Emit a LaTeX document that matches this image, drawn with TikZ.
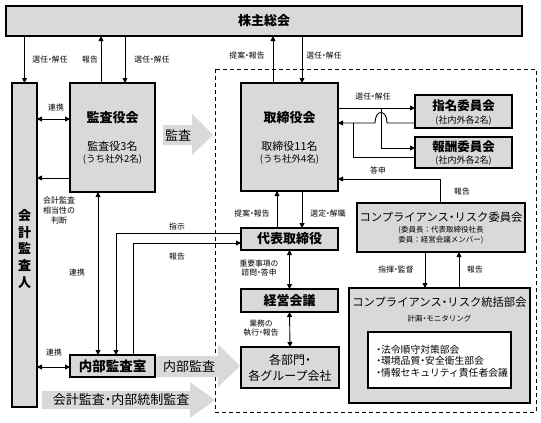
\documentclass[tikz,border=0pt]{standalone}
\usepackage{fontspec}
\setmainfont{Noto Sans CJK JP}
\usetikzlibrary{arrows.meta}
\definecolor{boxgray}{HTML}{D9D9D9}
\definecolor{arrgray}{HTML}{D9D9D9}
\newcommand\lblfont{\fontsize{7.8}{9.5}\selectfont}
\newcommand\ttlfont{\bfseries\fontsize{13}{15}\selectfont}
\newcommand\subfont{\fontsize{11}{13}\selectfont}
\newcommand\smfont{\fontsize{9.5}{11}\selectfont}
\newcommand\nd{\makebox[0.5em][c]{・}}
\begin{document}
\begin{tikzpicture}[x=1pt,y=-1pt,
  box/.style={draw, line width=1.1pt, fill=boxgray, inner sep=0pt, outer sep=0pt},
  lbl/.style={font=\lblfont, inner sep=0pt, align=center},
  arr/.style={-{Triangle[length=5pt,width=5pt]}, line width=0.9pt},
  darr/.style={{Triangle[length=5pt,width=5pt]}-{Triangle[length=5pt,width=5pt]}, line width=0.9pt},
  plain/.style={line width=0.9pt},
  bigarrow/.style={fill=arrgray, draw=none}]
\useasboundingbox (0,0) rectangle (541,423);

% dashed frame
\draw[dashed, line width=0.9pt, dash pattern=on 4pt off 3pt] (215,69) rectangle (536,412);

% big gray arrows
\fill[bigarrow] (163,125) -- (192,125) -- (192,114) -- (213,135) -- (192,155) -- (192,145) -- (163,145) -- cycle;
\node[font=\ttlfont\mdseries, inner sep=0pt] (kansaarrow) at (178,135) {監査};
\fill[bigarrow] (156,356) -- (218,356) -- (218,344) -- (240,366) -- (218,387) -- (218,377) -- (156,377) -- cycle;
\node[font=\ttlfont\mdseries, inner sep=0pt] (naibuarrow) at (189,366.5) {内部監査};
\fill[bigarrow] (42,391) -- (190,391) -- (190,382) -- (215,400) -- (190,418) -- (190,409) -- (42,409) -- cycle;
\node[font=\ttlfont\mdseries, inner sep=0pt] (kaikeiarrow) at (121,400) {会計監査\nd 内部統制監査};

% boxes
\node[box, minimum width=516pt, minimum height=30pt, font=\ttlfont] (soukai) at (264,21) {株主総会};
\node[box, minimum width=25pt, minimum height=324pt] (kaikei) at (24.5,245) {};
\node[font=\bfseries\fontsize{13}{16.8}\selectfont, align=center, inner sep=0pt] (kaikeitxt) at (24.5,249) {会\\計\\監\\査\\人};

\node[box, minimum width=85pt, minimum height=109pt] (kansayaku) at (112.5,137.5) {};
\node[font=\ttlfont, inner sep=0pt] (kansayakut) at (112.5,118) {監査役会};
\node[font=\subfont, inner sep=0pt] (kansayakus1) at (112.5,146) {監査役3名};
\node[font=\smfont, inner sep=0pt] (kansayakus2) at (112.5,159) {(うち社外2名)};

\node[box, minimum width=97pt, minimum height=108pt] (tori) at (289.5,137) {};
\node[font=\ttlfont, inner sep=0pt] (torit) at (289.5,118) {取締役会};
\node[font=\subfont, inner sep=0pt] (toris1) at (289.5,146) {取締役11名};
\node[font=\smfont, inner sep=0pt] (toris2) at (289.5,159) {(うち社外4名)};

\node[box, minimum width=97pt, minimum height=22pt, font=\ttlfont] (daihyo) at (289.5,239) {代表取締役};
\node[box, minimum width=97pt, minimum height=23pt, font=\ttlfont] (keiei) at (289.5,300.5) {経営会議};
\node[box, minimum width=98pt, minimum height=41pt, font=\fontsize{12}{16}\selectfont, align=center] (kakubu) at (290,367.5) {各部門\nd\\各グループ会社};
\node[box, minimum width=85pt, minimum height=22pt, font=\bfseries\fontsize{13.5}{15}\selectfont] (naibu) at (112.5,366) {内部監査室};

\node[box, minimum width=97pt, minimum height=33pt] (shimei) at (463.5,111.5) {};
\node[font=\bfseries\fontsize{12.5}{14}\selectfont, inner sep=0pt] (shimeit) at (463.5,106) {指名委員会};
\node[font=\fontsize{9}{10}\selectfont, inner sep=0pt] (shimeis) at (463.5,120.5) {(社内外各2名)};
\node[box, minimum width=97pt, minimum height=31pt] (hoshu) at (463.5,152.5) {};
\node[font=\bfseries\fontsize{12.5}{14}\selectfont, inner sep=0pt] (hoshut) at (463.5,147) {報酬委員会};
\node[font=\fontsize{9}{10}\selectfont, inner sep=0pt] (hoshus) at (463.5,161) {(社内外各2名)};

\node[box, minimum width=168pt, minimum height=49pt] (cri) at (441,227.5) {};
\node[font=\fontsize{11.3}{13}\selectfont, inner sep=0pt] (crit) at (441,217) {コンプライアンス\nd リスク委員会};
\node[font=\fontsize{7.5}{10}\selectfont, align=center, inner sep=0pt] (cris) at (441,235) {(委員長：代表取締役社長\\委員：経営会議メンバー)};

\node[box, minimum width=181pt, minimum height=115pt] (crt) at (439.5,345.5) {};
\node[font=\fontsize{11.3}{13}\selectfont, inner sep=0pt] (crtt) at (439.5,302) {コンプライアンス\nd リスク統括部会};
\node[font=\fontsize{7.5}{9}\selectfont, inner sep=0pt] (crts) at (439.5,319) {計画\nd モニタリング};
\node[draw, line width=1.1pt, fill=white, minimum width=143pt, minimum height=56pt, inner sep=0pt] (inner) at (439.5,360) {};
\node[font=\fontsize{9.8}{11.3}\selectfont, align=left, inner sep=0pt, anchor=west] (innert) at (376,361) {\nd 法令順守対策部会\\\nd 環境品質\nd 安全衛生部会\\\nd 情報セキュリティ責任者会議};

% connectors top
\draw[arr] (kaikei.north |- soukai.south) -- (kaikei.north);
\node[lbl] (l1) at (50,60) {選任\nd 解任};
\draw[arr] ([xshift=-11.5pt]kansayaku.north) -- ([xshift=-11.5pt]kansayaku.north |- soukai.south);
\node[lbl] (l2) at (90,60) {報告};
\draw[arr] ([xshift=12.5pt]kansayaku.north |- soukai.south) -- ([xshift=12.5pt]kansayaku.north);
\node[lbl] (l3) at (152,60) {選任\nd 解任};
\draw[arr] ([xshift=-16.5pt]tori.north) -- ([xshift=-16.5pt]tori.north |- soukai.south);
\node[lbl] (l4) at (247,56) {提案\nd 報告};
\draw[arr] ([xshift=12.5pt]tori.north |- soukai.south) -- ([xshift=12.5pt]tori.north);
\node[lbl] (l5) at (324,56) {選任\nd 解任};

% left side
\draw[darr] (kaikei.east |- 0,119) -- (kansayaku.west |- 0,119);
\node[lbl] (l6) at (56,108) {連携};
\draw[arr] (kansayaku.west |- 0,178) -- (kaikei.east |- 0,178);
\node[lbl, font=\fontsize{8}{10}\selectfont] (l7) at (59,210) {会計監査\\相当性の\\判断};
\draw[darr] (kansayaku.south -| 98,0) -- (naibu.north -| 98,0);
\node[lbl] (l8) at (77,273) {連携};
\draw[darr] (kaikei.east |- 0,367) -- (naibu.west |- 0,367);
\node[lbl] (l9) at (54,353) {連携};

% 指示 / 報告
\draw[arr] (daihyo.west |- 0,233) -| (naibu.north -| 116,0);
\node[lbl] (l10) at (177,227) {指示};
\draw[arr] (naibu.north -| 133,0) |- (daihyo.west |- 0,243);
\node[lbl] (l11) at (177,257) {報告};

% center column
\draw[arr] ([xshift=-12.5pt]daihyo.north) -- ([xshift=-12.5pt]tori.south);
\node[lbl] (l12) at (252,214) {提案\nd 報告};
\draw[arr] ([xshift=12.5pt]tori.south) -- ([xshift=12.5pt]daihyo.north);
\node[lbl] (l13) at (328,214) {選定\nd 解職};
\draw[darr] (daihyo.south) -- (keiei.north);
\node[lbl] (l14) at (259,268) {重要事項の\\諮問\nd 答申};
\draw[darr] (keiei.south) -- (kakubu.north);
\node[lbl] (l15) at (261,328) {業務の\\執行\nd 報告};

% committees
\draw[arr] (tori.east |- 0,108) -- (shimei.west |- 0,108);
\node[lbl] (l16) at (373,97) {選任\nd 解任};
\coordinate (br) at (381,108);
\draw[arr] (br) |- (hoshu.west |- 0,148);
\coordinate (jn) at (353,123);
\draw[arr] (shimei.west |- 0,123) -- (387,123) .. controls (387,109) and (375,109) .. (375,123) -- (tori.east |- jn);
\draw[plain] (hoshu.west |- 0,157) -| (jn);
\node[lbl] (l17) at (378,170) {答申};

% compliance
\draw[arr] (cri.north -| 440,0) |- (tori.east |- 0,179);
\node[lbl] (l18) at (462,192) {報告};
\draw[arr] (cri.south -| 425,0) -- (crt.north -| 425,0);
\node[lbl] (l19) at (396,270) {指揮\nd 監督};
\draw[arr] (crt.north -| 459,0) -- (cri.south -| 459,0);
\node[lbl] (l20) at (475,270) {報告};
\end{tikzpicture}
\end{document}
